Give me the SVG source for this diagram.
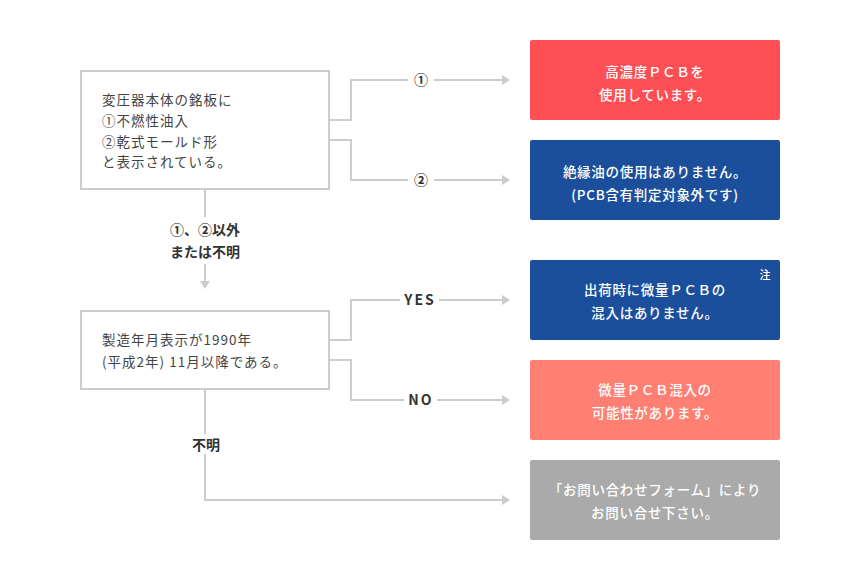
<svg xmlns="http://www.w3.org/2000/svg" width="860" height="580" viewBox="0 0 860 580">
<style>
.box{fill:#fff;stroke:#ccc;stroke-width:2}
.q{font-family:"Noto Sans CJK JP","Noto Sans",sans-serif;font-size:13.5px;fill:#444;letter-spacing:1px}
.r{font-family:"Noto Sans CJK JP","Noto Sans",sans-serif;font-size:13.5px;fill:#fff;font-weight:500;text-anchor:middle;letter-spacing:0.7px}
.lbl{font-family:"Noto Sans CJK JP","Noto Sans",sans-serif;font-size:14px;fill:#333;font-weight:bold;text-anchor:middle}
.ln{fill:none;stroke:#ccc;stroke-width:2}
.ah{fill:#ccc}
</style>
<rect width="860" height="580" fill="#fff"/>
<g id="connectors">
<path class="ln" d="M329 120H351V80H408M434 80H502"/>
<polygon class="ah" points="502,75 510,80 502,85"/>
<path class="ln" d="M329 140H351V180H408M434 180H502"/>
<polygon class="ah" points="502,175 510,180 502,185"/>
<path class="ln" d="M205 189V217M205 264V281"/>
<polygon class="ah" points="200,281 210,281 205,289"/>
<path class="ln" d="M329 340H351V300H400M439 300H502"/>
<polygon class="ah" points="502,295 510,300 502,305"/>
<path class="ln" d="M329 360H351V400H404M437 400H502"/>
<polygon class="ah" points="502,395 510,400 502,405"/>
<path class="ln" d="M205 389V434M205 454V500H502"/>
<polygon class="ah" points="502,495 510,500 502,505"/>
<text class="lbl" x="421" y="85">①</text>
<text class="lbl" x="421" y="185">②</text>
<text class="lbl" x="205" y="235">①、②以外</text>
<text class="lbl" x="205" y="257">または不明</text>
<text class="lbl" x="420" y="305" style="letter-spacing:2px">YES</text>
<text class="lbl" x="421" y="405" style="letter-spacing:2px">NO</text>
<text class="lbl" x="206" y="450">不明</text>
</g>
<g id="q1">
<rect class="box" x="81" y="71" width="248" height="118"/>
<text class="q" x="102" y="105">変圧器本体の銘板に</text>
<text class="q" x="102" y="126">①不燃性油入</text>
<text class="q" x="102" y="147">②乾式モールド形</text>
<text class="q" x="102" y="167">と表示されている。</text>
</g>
<g id="q2">
<rect class="box" x="81" y="311" width="248" height="78"/>
<text class="q" x="102" y="345">製造年月表示が1990年</text>
<text class="q" x="102" y="367">(平成2年) 11月以降である。</text>
</g>
<g id="a1">
<rect x="530" y="40" width="250" height="80" rx="2" fill="#fe4f55"/>
<text class="r" x="655" y="77">高濃度ＰＣＢを</text>
<text class="r" x="655" y="100">使用しています。</text>
</g>
<g id="a2">
<rect x="530" y="140" width="250" height="80" rx="2" fill="#1b4f9c"/>
<text class="r" x="655" y="177">絶縁油の使用はありません。</text>
<text class="r" x="655" y="200">(PCB含有判定対象外です)</text>
</g>
<g id="a3">
<rect x="530" y="260" width="250" height="80" rx="2" fill="#1b4f9c"/>
<text class="r" x="765" y="279" style="font-size:11px;letter-spacing:0">注</text>
<text class="r" x="655" y="295">出荷時に微量ＰＣＢの</text>
<text class="r" x="655" y="318">混入はありません。</text>
</g>
<g id="a4">
<rect x="530" y="360" width="250" height="80" rx="2" fill="#ff7f73"/>
<text class="r" x="655" y="395">微量ＰＣＢ混入の</text>
<text class="r" x="655" y="418">可能性があります。</text>
</g>
<g id="a5">
<rect x="530" y="460" width="250" height="80" rx="2" fill="#aaaaaa"/>
<text class="r" x="655" y="495">「お問い合わせフォーム」により</text>
<text class="r" x="655" y="518">お問い合せ下さい。</text>
</g>
</svg>
